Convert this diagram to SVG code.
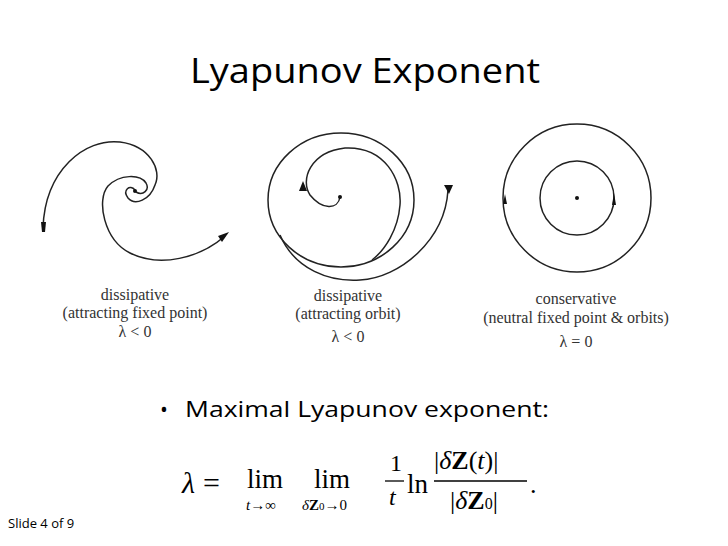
<svg xmlns="http://www.w3.org/2000/svg" width="728" height="546" viewBox="0 0 728 546">
<style>
.c{fill:none;stroke:#222;stroke-width:1.5}
.l{font-family:"Liberation Serif",serif;font-size:16px;fill:#333;text-anchor:middle}
.m{font-family:"Liberation Serif",serif;fill:#000}
.a{fill:#111}
.s{font-family:"Open Sans","Liberation Sans",sans-serif}
</style>
<rect width="728" height="546" fill="#fff"/>
<text x="190" y="83" class="s" font-size="34" textLength="350" lengthAdjust="spacingAndGlyphs">Lyapunov Exponent</text>
<g id="p1">
<path class="c" d="M43,228 C45,170 85,138 120,142 C150,146 162,170 155,185 C150,200 135,206 128,198 C122,190 130,184 135,190"/>
<path class="c" d="M136,192 C143,196 150,190 146,183 C140,174 120,174 108,186 C96,200 104,240 130,253 C160,268 200,258 225,236"/>
<circle cx="135" cy="191" r="2" class="a"/>
<path class="a" d="M41,222 L46,222 L45,232 L42,232Z"/>
<path class="a" d="M229,232 L218,236 L222,242Z"/>
<text class="l" x="135" y="300">dissipative</text>
<text class="l" x="135" y="318">(attracting fixed point)</text>
<text class="l" x="135" y="337">λ &lt; 0</text>
</g>
<g id="p2">
<ellipse class="c" cx="341" cy="200" rx="73" ry="67"/>
<path class="c" d="M340,197 C338,210 322,210 310,195 C300,180 310,152 345,148 C385,146 402,180 400,205 C398,230 385,250 372,260"/>
<path class="c" d="M280,235 C295,270 330,282 360,280 C400,278 445,240 448,190"/>
<circle cx="340" cy="197" r="2" class="a"/>
<path class="a" d="M303,181 L299,191 L307,191Z"/>
<path class="a" d="M444,185 L453,185 L449,194Z"/>
<text class="l" x="348" y="301">dissipative</text>
<text class="l" x="348" y="319">(attracting orbit)</text>
<text class="l" x="348" y="342">λ &lt; 0</text>
</g>
<g id="p3">
<circle class="c" cx="577" cy="198" r="74"/>
<circle class="c" cx="577" cy="198" r="37"/>
<circle cx="577" cy="198" r="2" class="a"/>
<path class="a" d="M503,204 L507,204 L505,194Z"/>
<path class="a" d="M612,205 L616,205 L614,193Z"/>
<text class="l" x="576" y="304">conservative</text>
<text class="l" x="576" y="323">(neutral fixed point &amp; orbits)</text>
<text class="l" x="576" y="347">λ = 0</text>
</g>
<text x="160" y="417" class="s" font-size="21">•</text>
<text x="185" y="417" class="s" font-size="21" textLength="364" lengthAdjust="spacingAndGlyphs">Maximal Lyapunov exponent:</text>
<g class="m">
<text x="182" y="493" font-size="30" font-style="italic">λ</text>
<text x="203" y="493" font-size="30">=</text>
<text x="247" y="488" font-size="27">lim</text>
<text x="246" y="510" font-size="15"><tspan font-style="italic">t</tspan>→∞</text>
<text x="314" y="488" font-size="27">lim</text>
<text x="302" y="510" font-size="15"><tspan font-style="italic">δ</tspan><tspan font-weight="bold">Z</tspan><tspan font-size="11">0</tspan>→0</text>
<text x="390" y="471" font-size="24">1</text>
<line x1="385" y1="481" x2="404" y2="481" stroke="#000" stroke-width="1.3"/>
<text x="389" y="505" font-size="24" font-style="italic">t</text>
<text x="407" y="493" font-size="27">ln</text>
<text x="434" y="469" font-size="26">|<tspan font-style="italic">δ</tspan><tspan font-weight="bold">Z</tspan>(<tspan font-style="italic">t</tspan>)|</text>
<line x1="434" y1="481" x2="527" y2="481" stroke="#000" stroke-width="1.3"/>
<text x="450" y="509" font-size="26">|<tspan font-style="italic">δ</tspan><tspan font-weight="bold">Z</tspan><tspan font-size="16">0</tspan>|</text>
<text x="530" y="493" font-size="26">.</text>
</g>
<text x="8" y="528" class="s" font-size="13">Slide 4 of 9</text>
</svg>
